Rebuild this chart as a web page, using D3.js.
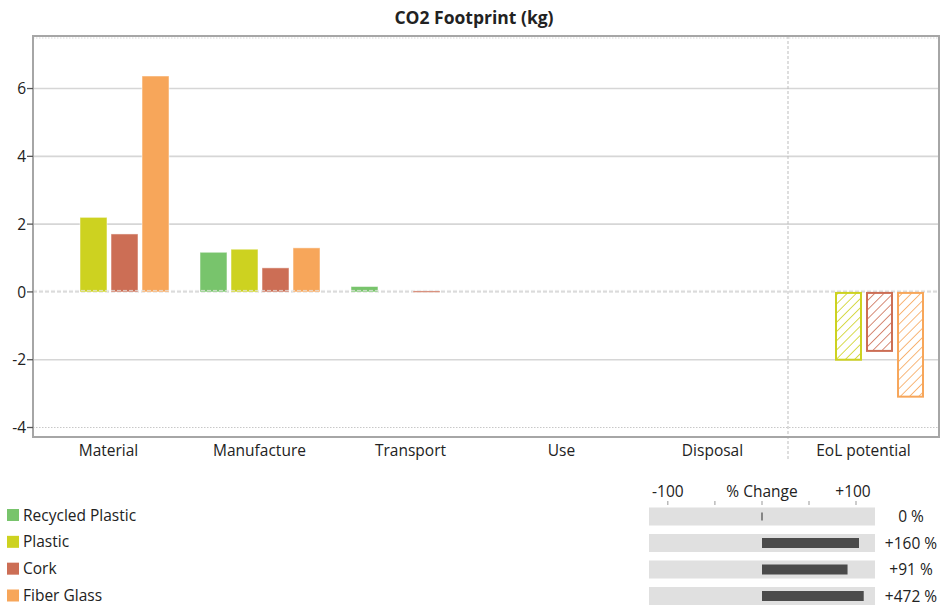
<!DOCTYPE html>
<html><head><meta charset="utf-8">
<script src="https://cdn.jsdelivr.net/npm/d3@7/dist/d3.min.js"></script>
<style>
body{margin:0;background:#fff;}
text{font-family:"Open Sans","Noto Sans",sans-serif;fill:#222;}
</style></head>
<body><svg id="c" width="944" height="610"></svg>
<script>
const categories = ["Material","Manufacture","Transport","Use","Disposal","EoL potential"];
const series = ["Recycled Plastic","Plastic","Cork","Fiber Glass"];
const colors = ["#78c46c","#cdd220","#cc6e55","#f7a65a"];
const recycledPlastic = [0, 1.17, 0.16, 0, 0, 0];
const plastic        = [2.20, 1.26, 0, 0, 0, -2.0];
const cork           = [1.71, 0.71, 0.03, 0, 0, -1.74];
const fiberGlass     = [6.37, 1.30, 0, 0, 0, -3.09];
const seriesValues = [recycledPlastic, plastic, cork, fiberGlass];
const yTicks = [-4,-2,0,2,4,6];
const pctChange = [0, 160, 91, 472];
const pctLabels = ["0 %","+160 %","+91 %","+472 %"];
const pctTicks = [-100,-50,0,50,100];
const hatchedCategory = "EoL potential";

const FS = "15.5px";
const svg = d3.select("#c");
const L=33, R=939, T=36, B=437;

const x0 = d3.scaleBand().domain(categories).range([L,R]);
const x1 = d3.scaleBand().domain(series).range([16,136]).paddingInner(0.13);
const y = d3.scaleLinear().domain([-4.28,7.55]).range([B,T]);

// hatch patterns
const defs = svg.append("defs");
series.forEach((s,i)=>{
  const p = defs.append("pattern").attr("id","h"+i).attr("patternUnits","userSpaceOnUse")
    .attr("width",6.5).attr("height",6.5).attr("patternTransform","rotate(45)");
  p.append("rect").attr("width",6.5).attr("height",6.5).attr("fill","#fff");
  p.append("line").attr("x1",0).attr("y1",0).attr("x2",0).attr("y2",6.5)
    .attr("stroke",colors[i]).attr("stroke-width",1.6);
});

// title
svg.append("text").attr("x",474).attr("y",24).attr("text-anchor","middle")
  .style("font-weight","bold").style("font-size","17.5px").text("CO2 Footprint (kg)");

// gridlines
yTicks.forEach(t=>{
  const g = svg.append("line").attr("x1",L).attr("x2",R).attr("y1",y(t)).attr("y2",y(t));
  if(t===0) g.attr("stroke","#cfcfcf").attr("stroke-width",1.3).attr("stroke-dasharray","4,2");
  else if(t===-4) g.attr("stroke","#c8c8c8").attr("stroke-width",1).attr("stroke-dasharray","1.5,1.5");
  else g.attr("stroke","#d6d6d6").attr("stroke-width",1.6);
});
svg.append("line").attr("x1",L).attr("x2",R).attr("y1",T+2).attr("y2",T+2)
  .attr("stroke","#d8d8d8").attr("stroke-dasharray","1.5,1.5");

// separator before EoL
const sepX = x0(hatchedCategory);
svg.append("line").attr("x1",sepX).attr("x2",sepX).attr("y1",T).attr("y2",B+22)
  .attr("stroke","#bdbdbd").attr("stroke-dasharray","3,2");

// bars
categories.forEach((c,ci)=>{
  series.forEach((s,si)=>{
    const v = seriesValues[si][ci];
    if(v===0) return;
    const bx = x0(c)+x1(s), bw = x1.bandwidth();
    const y0 = y(Math.max(0,v)), h = Math.abs(y(v)-y(0));
    if(c===hatchedCategory){
      svg.append("rect").attr("x",bx+1).attr("y",y0+1).attr("width",bw-2).attr("height",h-1)
        .attr("fill","url(#h"+si+")").attr("stroke",colors[si]).attr("stroke-width",2);
    } else {
      svg.append("rect").attr("x",bx).attr("y",y0).attr("width",bw).attr("height",Math.max(h,1.5))
        .attr("fill",colors[si]).attr("stroke","#ffffff").attr("stroke-opacity",0.5).attr("stroke-width",1);
    }
  });
});
// zero line over bars
svg.append("line").attr("x1",L).attr("x2",R).attr("y1",y(0)-1.5).attr("y2",y(0)-1.5)
  .attr("stroke","#e6e6e6").attr("stroke-width",1).attr("stroke-dasharray","4,2").attr("opacity",0.8);

// frame
svg.append("rect").attr("x",L).attr("y",T).attr("width",R-L).attr("height",B-T)
  .attr("fill","none").attr("stroke","#a6a6a6").attr("stroke-width",2);

// y axis ticks and labels
yTicks.forEach(t=>{
  svg.append("line").attr("x1",L-6).attr("x2",L).attr("y1",y(t)).attr("y2",y(t))
    .attr("stroke","#555").attr("stroke-width",1.3);
  svg.append("text").attr("x",L-7).attr("y",y(t)).attr("dy","0.36em").attr("text-anchor","end")
    .style("font-size",FS).text(t);
});
// x labels
categories.forEach(c=>{
  svg.append("text").attr("x",x0(c)+x0.bandwidth()/2).attr("y",456).attr("text-anchor","middle")
    .style("font-size",FS).text(c);
});

// legend
const legY = d3.scaleLinear().domain([0,3]).range([515,595.5]);
series.forEach((s,i)=>{
  svg.append("rect").attr("x",7).attr("y",legY(i)-6).attr("width",12).attr("height",12).attr("fill",colors[i]);
  svg.append("text").attr("x",23).attr("y",legY(i)).attr("dy","0.36em").style("font-size",FS).text(s);
});

// % change panel
const px = d3.scaleLinear().domain([-120,0,100,200,500]).range([649,762,856,861,864]).clamp(true);
const rowY = d3.scaleLinear().domain([0,3]).range([516.5,596]);
svg.append("text").attr("x",px(-100)).attr("y",497).attr("text-anchor","middle").style("font-size",FS).text("-100");
svg.append("text").attr("x",px(0)).attr("y",497).attr("text-anchor","middle").style("font-size",FS).text("% Change");
svg.append("text").attr("x",px(100)-3).attr("y",497).attr("text-anchor","middle").style("font-size",FS).text("+100");
pctTicks.forEach(t=>{
  svg.append("line").attr("x1",px(t)).attr("x2",px(t)).attr("y1",501).attr("y2",505)
    .attr("stroke","#999").attr("stroke-width",1);
});
pctChange.forEach((v,i)=>{
  const cy = rowY(i);
  svg.append("rect").attr("x",px(-120)).attr("y",cy-9).attr("width",px(500)-px(-120)+11).attr("height",18)
    .attr("fill","#e0e0e0");
  if(v===0){
    svg.append("line").attr("x1",px(0)).attr("x2",px(0)).attr("y1",cy-4).attr("y2",cy+4)
      .attr("stroke","#555").attr("stroke-width",1.3);
  } else {
    const a = px(Math.min(0,v)), b = px(Math.max(0,v));
    svg.append("rect").attr("x",a).attr("y",cy-5).attr("width",b-a).attr("height",10).attr("fill","#4b4b4b");
  }
  svg.append("text").attr("x",911).attr("y",cy).attr("dy","0.36em").attr("text-anchor","middle")
    .style("font-size",FS).text(pctLabels[i]);
});
</script></body></html>
